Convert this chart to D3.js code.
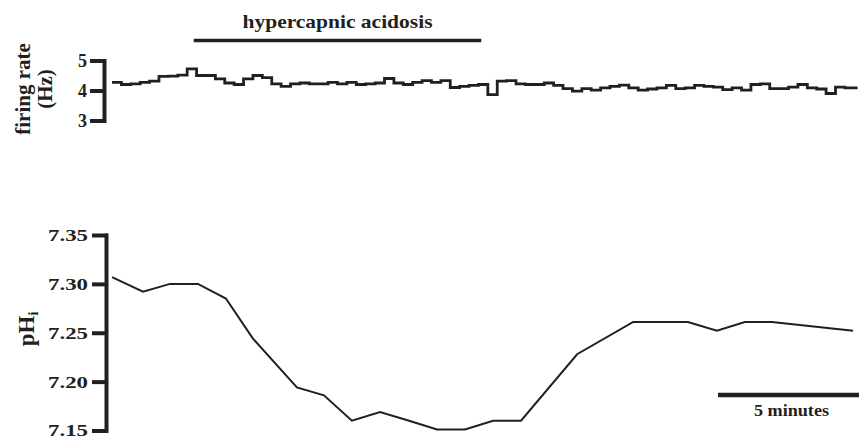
<!DOCTYPE html>
<html>
<head>
<meta charset="utf-8">
<script src="https://cdn.jsdelivr.net/npm/d3@7"></script>
<style>
  body { margin: 0; background: #fff; }
  svg { display: block; }
  .lbl { font-family: "Liberation Serif", "Times New Roman", serif; font-weight: bold; fill: #231f20; }
</style>
</head>
<body>
<div id="chart"></div>
<script>
"use strict";

// Firing rate, one value per 20 s bin (Hz)
const rateBinMinutes = 1 / 3;
const rateValues = [
    4.27, 4.20, 4.22, 4.27, 4.31, 4.47, 4.48, 4.51, 4.72, 4.50,
    4.50, 4.39, 4.25, 4.20, 4.39, 4.50, 4.43, 4.22, 4.14, 4.22,
    4.25, 4.22, 4.22, 4.27, 4.22, 4.27, 4.20, 4.22, 4.25, 4.40,
    4.25, 4.20, 4.27, 4.33, 4.27, 4.33, 4.10, 4.14, 4.17, 4.20,
    3.86, 4.31, 4.33, 4.22, 4.20, 4.20, 4.25, 4.17, 4.06, 3.98,
    4.06, 4.01, 4.09, 4.14, 4.18, 4.09, 4.01, 4.05, 4.09, 4.17,
    4.06, 4.09, 4.17, 4.14, 4.11, 4.03, 4.09, 4.01, 4.20, 4.22,
    4.06, 4.06, 4.11, 4.20, 4.09, 4.05, 3.90, 4.11, 4.09
];
const rateEndMinutes = 26.45;
const rateTicks = [3, 4, 5];

// Intracellular pH samples
const phTimes = [0, 1.10, 2.06, 3.05, 4.04, 5.00, 6.56, 7.52, 8.51, 9.51, 10.54, 11.53,
    12.52, 13.52, 14.51, 16.50, 18.49, 19.51, 20.43, 21.46, 22.45, 23.41, 26.29];
const phValues = [7.307, 7.292, 7.300, 7.300, 7.285, 7.244, 7.194, 7.186, 7.160, 7.169, 7.160, 7.151,
    7.151, 7.160, 7.160, 7.228, 7.261, 7.261, 7.261, 7.252, 7.261, 7.261, 7.252];
const phTicks = [7.15, 7.20, 7.25, 7.30, 7.35];

// Annotations (minutes)
const acidosisPeriod = [2.9, 13.1];
const scaleBarPeriod = [21.5, 26.5];
const titleText = "hypercapnic acidosis";
const scaleBarText = "5 minutes";

const width = 859, height = 440;
const ink = "#231f20";

let svg = d3.select("#chart").append("svg")
    .attr("width", width)
    .attr("height", height);

// Shared time scale
let x = d3.scaleLinear().domain([0, 26.5]).range([112, 859]);

// Top panel: firing rate
let yRate = d3.scaleLinear().domain([3, 5]).range([120.5, 60.5]);

let rateAxis = svg.append("g")
    .attr("transform", "translate(104,0)")
    .call(d3.axisLeft(yRate).tickValues(rateTicks).tickFormat(d3.format("d"))
        .tickSize(12).tickSizeOuter(0).tickPadding(5));

let ratePoints = rateValues.map((v, i) => ({t: i * rateBinMinutes, v: v}));
ratePoints.push({t: rateEndMinutes, v: rateValues[rateValues.length - 1]});

let rateLine = d3.line()
    .x(d => x(d.t))
    .y(d => yRate(d.v))
    .curve(d3.curveStepAfter);

svg.append("path")
    .datum(ratePoints)
    .attr("fill", "none")
    .attr("stroke", ink)
    .attr("stroke-width", 2.8)
    .attr("d", rateLine);

// Bottom panel: pHi
let yPh = d3.scaleLinear().domain([7.15, 7.35]).range([430.5, 235]);

let phAxis = svg.append("g")
    .attr("transform", "translate(106,0)")
    .call(d3.axisLeft(yPh).tickValues(phTicks).tickFormat(d3.format(".2f"))
        .tickSize(12).tickSizeOuter(0).tickPadding(6));

let phLine = d3.line()
    .x((d, i) => x(phTimes[i]))
    .y(d => yPh(d));

svg.append("path")
    .datum(phValues)
    .attr("fill", "none")
    .attr("stroke", ink)
    .attr("stroke-width", 2)
    .attr("d", phLine);

// Axis styling
[rateAxis, phAxis].forEach(ax => {
    ax.selectAll(".domain, .tick line")
        .attr("stroke", ink)
        .attr("stroke-width", 4)
        .attr("stroke-linecap", "square");
    ax.selectAll(".tick text")
        .attr("class", "lbl")
        .attr("fill", ink)
        .style("font-size", "17px");
});
phAxis.selectAll(".tick text")
    .attr("textLength", 40)
    .attr("lengthAdjust", "spacingAndGlyphs");
rateAxis.selectAll(".tick text")
    .style("font-size", "18px");

// Acidosis bar and title
svg.append("line")
    .attr("x1", x(acidosisPeriod[0]))
    .attr("x2", x(acidosisPeriod[1]))
    .attr("y1", 40.5).attr("y2", 40.5)
    .attr("stroke", ink)
    .attr("stroke-width", 3.5);

svg.append("text")
    .attr("class", "lbl")
    .attr("x", (x(acidosisPeriod[0]) + x(acidosisPeriod[1])) / 2)
    .attr("y", 28)
    .style("font-size", "19px")
    .style("text-anchor", "middle")
    .attr("textLength", 190)
    .attr("lengthAdjust", "spacingAndGlyphs")
    .text(titleText);

// Scale bar
svg.append("line")
    .attr("x1", x(scaleBarPeriod[0]))
    .attr("x2", x(scaleBarPeriod[1]))
    .attr("y1", 395).attr("y2", 395)
    .attr("stroke", ink)
    .attr("stroke-width", 4.5);

svg.append("text")
    .attr("class", "lbl")
    .attr("x", 791.5)
    .attr("y", 416)
    .style("font-size", "16px")
    .style("text-anchor", "middle")
    .attr("textLength", 75)
    .attr("lengthAdjust", "spacingAndGlyphs")
    .text(scaleBarText);

// Y axis labels
svg.append("text")
    .attr("class", "lbl")
    .attr("transform", "translate(30,89) rotate(-90)")
    .style("font-size", "21px")
    .style("text-anchor", "middle")
    .text("firing rate");

svg.append("text")
    .attr("class", "lbl")
    .attr("transform", "translate(52,89) rotate(-90)")
    .style("font-size", "21px")
    .style("text-anchor", "middle")
    .text("(Hz)");

let phLabel = svg.append("text")
    .attr("class", "lbl")
    .attr("transform", "translate(34,329) rotate(-90)")
    .style("font-size", "23px")
    .style("text-anchor", "middle");
phLabel.append("tspan").text("pH");
phLabel.append("tspan")
    .attr("dy", 4)
    .style("font-size", "14px")
    .text("i");
</script>
</body>
</html>
